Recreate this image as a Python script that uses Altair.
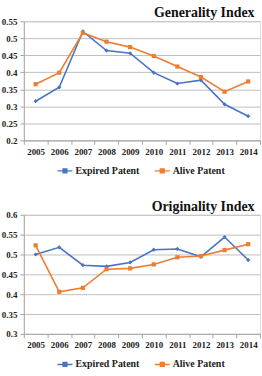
import altair as alt
import pandas as pd

years = ["2005", "2006", "2007", "2008", "2009", "2010", "2011", "2012", "2013", "2014"]
series = ["Expired Patent", "Alive Patent"]
gen_expired = [0.315, 0.356, 0.520, 0.464, 0.456, 0.399, 0.367, 0.377, 0.306, 0.271]
gen_alive = [0.365, 0.399, 0.516, 0.490, 0.474, 0.448, 0.417, 0.386, 0.343, 0.373]
orig_expired = [0.500, 0.518, 0.473, 0.470, 0.480, 0.512, 0.514, 0.494, 0.544, 0.486]
orig_alive = [0.523, 0.406, 0.416, 0.463, 0.465, 0.475, 0.493, 0.496, 0.511, 0.526]
gen_ticks = [0.2, 0.25, 0.3, 0.35, 0.4, 0.45, 0.5, 0.55]
orig_ticks = [0.3, 0.35, 0.4, 0.45, 0.5, 0.55, 0.6]
marker_shapes = ["diamond", "square"]

BLUE = "#4A74C2"
ORANGE = "#EE7D31"
FONT = "Liberation Serif"


def frame(a, b):
    return pd.DataFrame({
        "year": years * 2,
        "value": a + b,
        "series": [series[0]] * len(years) + [series[1]] * len(years),
    })


cscale = alt.Scale(domain=series, range=[BLUE, ORANGE])
legend = alt.Legend(
    title=None, orient="none", direction="horizontal", legendX=33, legendY=142,
    padding=0,
    symbolType="M-1,0H1M-0.25,-0.25H0.25V0.25H-0.25Z",
    symbolSize=225, symbolStrokeWidth=1.5,
    labelFont=FONT, labelFontWeight="bold", labelFontSize=10, labelColor="#222",
    columnPadding=12, labelOffset=2,
)


def panel(df, title, lo, hi, ticks):
    x = alt.X("year:O", sort=years, title=None,
              scale=alt.Scale(paddingInner=0, paddingOuter=0),
              axis=alt.Axis(labelAngle=0, labelFont=FONT, labelFontWeight="bold",
                            labelFontSize=9, labelColor="#222", tickBand="extent",
                            domainColor="#a6a6a6", tickColor="#a6a6a6", tickSize=4,
                            labelPadding=3, grid=False))
    y = alt.Y("value:Q", title=None,
              scale=alt.Scale(domain=[lo, hi], nice=False, zero=False),
              axis=alt.Axis(values=ticks, format=".2~f", labelFont=FONT,
                            labelFontWeight="bold", labelFontSize=9, labelColor="#222",
                            domainColor="#a6a6a6", tickColor="#a6a6a6", tickSize=4,
                            gridColor="#bfbfbf", labelPadding=3))
    col = alt.Color("series:N", scale=cscale, sort=series, legend=legend)
    line = alt.Chart(df).mark_line(strokeWidth=1.6).encode(x=x, y=y, color=col)
    layers = [line]
    for s, shp in zip(series, marker_shapes):
        layers.append(
            alt.Chart(df).transform_filter(alt.datum.series == s)
            .mark_point(filled=True, size=18, opacity=1, shape=shp)
            .encode(x=x, y=y, color=col)
        )
    return alt.layer(*layers).properties(
        width=238, height=120,
        title=alt.TitleParams(title, anchor="end", font=FONT, fontSize=14,
                              fontWeight="bold", color="#111", offset=-3, dx=-6),
    )


top = panel(frame(gen_expired, gen_alive), "Generality Index", 0.2, 0.55, gen_ticks)
bottom = panel(frame(orig_expired, orig_alive), "Originality Index", 0.3, 0.6, orig_ticks)

chart = alt.vconcat(top, bottom, spacing=22).resolve_scale(color="independent").resolve_legend(color="independent").configure_view(
    stroke=None
).configure(padding={"left": 0, "right": 1, "top": 4, "bottom": 2}, background="white")

chart.save("out.html", embed_options={"renderer": "svg", "actions": False})
